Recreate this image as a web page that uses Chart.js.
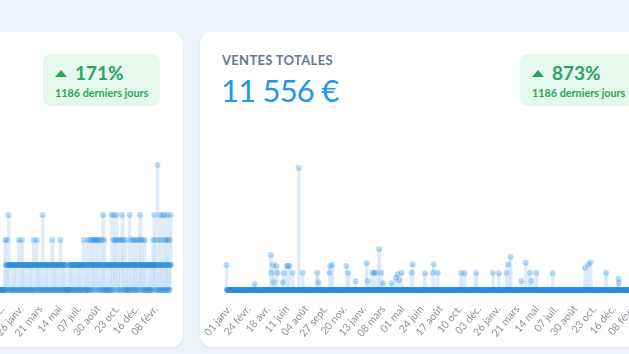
<!DOCTYPE html>
<html><head><meta charset="utf-8">
<script src="https://cdn.jsdelivr.net/npm/chart.js@4.4.1/dist/chart.umd.min.js"></script>
<style>
html,body{margin:0;padding:0;width:629px;height:354px;overflow:hidden;background:#eef2f9;font-family:Lato,'Open Sans',sans-serif;}
.card{position:absolute;top:32px;width:460px;height:315px;background:#fff;border-radius:12px;box-shadow:0 1px 3px rgba(30,50,90,0.07);}
.title{position:absolute;left:22px;top:20px;font-size:13px;font-weight:700;color:#6a788b;letter-spacing:0.3px;white-space:nowrap;}
.value{position:absolute;left:21px;top:39px;font-size:31px;letter-spacing:-0.8px;color:#2196f3;white-space:nowrap;}
.badge{position:absolute;left:320px;top:22px;height:52px;padding:0 12px;background:#e7f8ee;border-radius:7px;color:#2aa65c;box-sizing:border-box;white-space:nowrap;}
.pct{font-size:19px;font-weight:700;margin-top:8px;line-height:22px;}
.tri{display:inline-block;width:0;height:0;border-left:6px solid transparent;border-right:6px solid transparent;border-bottom:7px solid #2aa65c;margin-right:8px;vertical-align:3px;}
.sub{font-size:10.8px;font-weight:700;line-height:14px;margin-top:2px;}
.chartbox{position:absolute;left:0;top:100px;width:460px;height:210px;}
</style>
</head><body>
<div class="card" style="left:-277px">
  <div class="badge"><div class="pct"><span class="tri"></span>171%</div><div class="sub">1186 derniers jours</div></div>
  <div class="chartbox"><canvas id="c1" width="460" height="210"></canvas></div>
</div>
<div class="card" style="left:200px">
  <div class="title">VENTES TOTALES</div>
  <div class="value" id="total"></div>
  <div class="badge"><div class="pct"><span class="tri"></span>873%</div><div class="sub">1186 derniers jours</div></div>
  <div class="chartbox"><canvas id="c2" width="460" height="210"></canvas></div>
</div>
<script>
// ---- categories / tick labels ----
const dayCount = 1186;
const startYear = 2020, startMonth = 0, startDay = 1;
const monthNames = ['janv.','févr.','mars','avr.','mai','juin','juil.','août','sept.','oct.','nov.','déc.'];
const tickStep = 54;

// ---- series 1 (left card): daily counts, days 719..1185, one digit per day ----
const ordersFirstDay = 719;
const ordersDigits =
  "2011020113" + "1011010110" + "1011010110" + "1011010120" + "1011010210" +
  "1011010110" + "1011010110" + "1011010110" + "2011010112" + "1011010110" +
  "1011030110" + "1011010110" + "1011010110" + "1021010110" + "1011010110" +
  "1011020110" + "1011010110" + "1000000000" + "1011010110" + "1011010110" +
  "1011010110" + "1011010110" + "1211010100" + "1021010120" + "1120110122" +
  "1120110122" + "1120110120" + "1120130120" + "1011010110" + "1011010113" +
  "1012013120" + "1123110120" + "1120110123" + "1120110120" + "1011010110" +
  "3120110120" + "1120110120" + "1120110123" + "1120110120" + "1120110110" +
  "1011010110" + "1011012113" + "1120110150" + "1120130120" + "1130110320" +
  "1120130120" + "1120131";

// ---- series 2 (right card): sales in €, days with a sale ----
const salesDays = [0,79,125,126,131,133,141,143,159,161,169,173,177,186,203,214,255,259,290,291,297,337,342,363,394,397,410,415,419,429,435,440,464,476,481,485,492,520,523,558,580,582,594,660,669,702,749,766,787,791,798,829,841,853,857,871,917,1008,1017,1024,1067,1102,1103,1150,1171];
const salesValues = [225,54,315,156,225,69,216,156,69,156,216,216,216,156,1098,156,156,69,156,216,225,216,156,81,240,81,156,156,156,369,156,60,60,111,141,90,156,156,231,150,156,231,156,156,150,156,156,150,156,231,300,81,246,156,81,156,150,201,231,249,156,102,60,156,90];

const yMaxOrders = 6;
const yMaxSales = 1350;

// build categories
const labels = [];
for (let i = 0; i < dayCount; i++) {
  const d = new Date(Date.UTC(startYear, startMonth, startDay) + i * 86400000);
  labels.push(String(d.getUTCDate()).padStart(2,'0') + ' ' + monthNames[d.getUTCMonth()]);
}
const orders = new Array(dayCount).fill(0);
for (let k = 0; k < ordersDigits.length; k++) orders[ordersFirstDay + k] = Number(ordersDigits[k]);
const sales = new Array(dayCount).fill(0);
salesDays.forEach((d, k) => { sales[d] = salesValues[k]; });

const total = sales.reduce((a, b) => a + b, 0);
document.getElementById('total').textContent =
  String(total).replace(/\B(?=(\d{3})+(?!\d))/g, ' ') + ' €';

function makeChart(id, data, yMax) {
  new Chart(document.getElementById(id), {
    type: 'line',
    data: {
      labels: labels,
      datasets: [{
        data: data,
        borderColor: 'rgba(40,135,225,0.15)',
        backgroundColor: 'rgba(40,135,225,0.13)',
        fill: 'origin',
        borderWidth: 3.5,
        tension: 0,
        pointRadius: 3,
        pointBackgroundColor: 'rgba(45,140,222,0.32)',
        pointBorderWidth: 0,
        clip: false
      }]
    },
    options: {
      responsive: false,
      animation: false,
      events: [],
      layout: { padding: { left: 26.5, right: 12, top: 8, bottom: 0 } },
      plugins: { legend: { display: false }, tooltip: { enabled: false } },
      scales: {
        y: { display: false, min: 0, max: yMax },
        x: {
          grid: { display: false },
          border: { display: false },
          afterFit: (s) => { s.height = 52; s.paddingLeft = 0; s.paddingRight = 0; },
          ticks: {
            autoSkip: false,
            minRotation: 50,
            maxRotation: 50,
            padding: 5,
            labelOffset: 3,
            color: '#8a919c',
            font: { family: 'Lato', size: 10.5 },
            callback: function (v, i) { return i % tickStep === 0 ? labels[i] : ''; }
          }
        }
      }
    }
  });
}
makeChart('c1', orders, yMaxOrders);
makeChart('c2', sales, yMaxSales);
</script>
</body></html>
